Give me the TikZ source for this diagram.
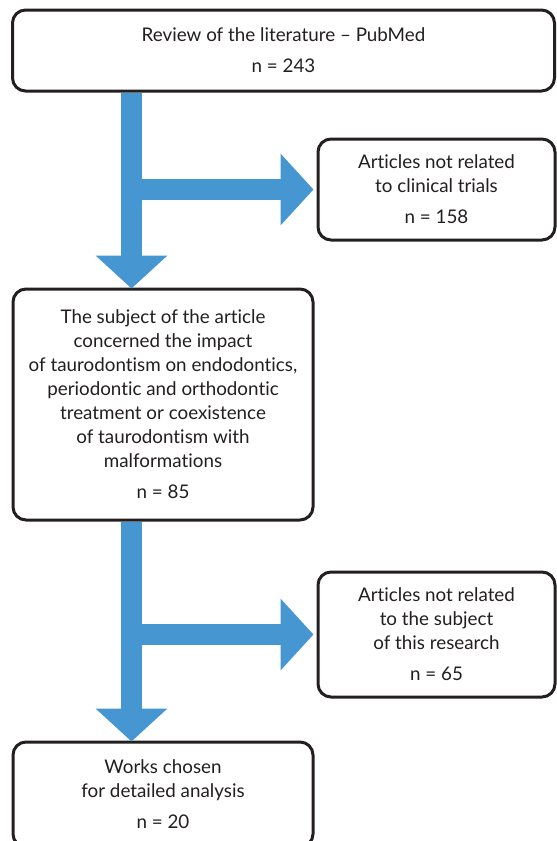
\documentclass[tikz,border=0pt]{standalone}
\usepackage{fontspec}
\setmainfont{Lato}[RawFeature=-liga]
\usetikzlibrary{arrows.meta}
\definecolor{flowblue}{RGB}{70,150,210}
\definecolor{ink}{RGB}{35,31,32}
\tikzset{
  box/.style={draw=ink, line width=3pt, rounded corners=13pt, fill=white,
    inner sep=0pt, align=center, text=ink,
    font=\fontsize{18.8}{24}\selectfont},
  flow/.style={draw=flowblue, line width=21pt,
    -{Triangle[length=33pt,width=70pt]}},
}
\begin{document}
\begin{tikzpicture}[x=1pt,y=-1pt]
\useasboundingbox (0,0) rectangle (557,841);
\node[box, minimum width=542pt, minimum height=81pt] (b1) at (283.5,50.5)
  {Review of the literature -- PubMed\\[7pt] n = 243};
\node[box, minimum width=237pt, minimum height=101pt] (b2) at (436.5,189.5)
  {Articles not related\\ to clinical trials\\[7pt] n = 158};
\node[box, minimum width=300pt, minimum height=231pt] (b3) at (163,404.5)
  {The subject of the article\\ concerned the impact\\ of taurodontism on endodontics,\\ periodontic and orthodontic\\ treatment or coexistence\\ of taurodontism with\\ malformations\\[7pt] n = 85};
\node[box, minimum width=237pt, minimum height=125pt] (b4) at (436.5,634.5)
  {Articles not related\\ to the subject\\ of this research\\[7pt] n = 65};
\node[box, minimum width=300pt, minimum height=105pt] (b5) at (163,794.5)
  {Works chosen\\ for detailed analysis\\[7pt] n = 20};
\coordinate (sx) at (131.5,0);
\draw[flow] (sx |- b1.south) -- ([yshift=-1pt]sx |- b3.north);
\draw[flow, shorten >=3pt] (sx |- b2.west) -- (b2.west);
\draw[flow] (sx |- b3.south) -- ([yshift=-1pt]sx |- b5.north);
\draw[flow, shorten >=3pt] (sx |- b4.west) -- (b4.west);
\end{tikzpicture}
\end{document}
